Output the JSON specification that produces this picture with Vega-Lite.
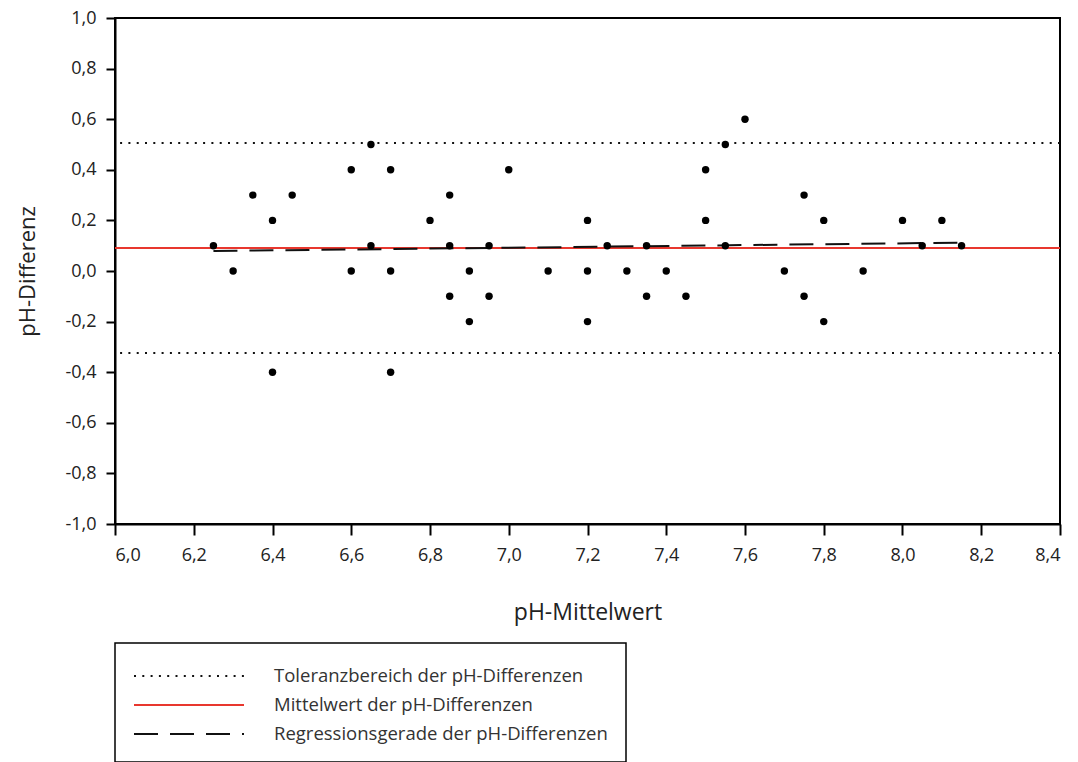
{
  "$schema": "https://vega.github.io/schema/vega-lite/v6.json",
  "width": 945,
  "height": 506,
  "autosize": {"type": "none"},
  "padding": {"left": 115, "top": 18, "right": 18, "bottom": 238},
  "background": "white",
  "config": {
    "view": {"stroke": "black", "strokeWidth": 2},
    "font": "Open Sans",
    "axis": {
      "grid": false,
      "domainColor": "black",
      "domainWidth": 2,
      "tickColor": "black",
      "tickWidth": 2,
      "labelFont": "Open Sans",
      "labelFontSize": 18,
      "labelColor": "#222",
      "titleFont": "Open Sans",
      "titleFontSize": 22,
      "titleFontWeight": "normal",
      "titleColor": "#222"
    },
    "legend": {
      "orient": "none",
      "legendX": 0,
      "legendY": 625,
      "symbolType": "stroke",
      "symbolSize": 12100,
      "symbolStrokeWidth": 2,
      "labelFont": "Open Sans",
      "labelFontSize": 18.5,
      "labelColor": "#333",
      "labelOffset": 29,
      "labelLimit": 0,
      "clipHeight": 16,
      "rowPadding": 10,
      "padding": 18,
      "strokeColor": "black",
      "strokeWidth": 1.5,
      "fillColor": "white",
      "titleFontSize": 6,
      "titlePadding": 1
    }
  },
  "layer": [
    {
      "data": {
        "values": [
          {"type": "Toleranzbereich der pH-Differenzen", "y": 0.506},
          {"type": "Toleranzbereich der pH-Differenzen", "y": -0.324},
          {"type": "Mittelwert der pH-Differenzen", "y": 0.091}
        ]
      },
      "mark": {"type": "rule"},
      "encoding": {
        "y": {"field": "y", "type": "quantitative", "scale": {"domain": [-1, 1], "nice": false, "zero": false},
          "axis": {"title": "pH-Differenz", "values": [-1, -0.8, -0.6, -0.4, -0.2, 0, 0.2, 0.4, 0.6, 0.8, 1],
            "labelExpr": "replace(replace(format(datum.value, '.1f'), '.', ','), '\u2212', '-')",
            "labelFontSize": 18, "labelFont": "Open Sans",
            "tickSize": 9, "labelPadding": 10, "titleX": -88, "titleBaseline": "middle"}},
        "color": {"field": "type", "type": "nominal",
          "scale": {"domain": ["Toleranzbereich der pH-Differenzen", "Mittelwert der pH-Differenzen", "Regressionsgerade der pH-Differenzen"],
            "range": ["#111111", "#e8372e", "#111111"]},
          "legend": {"title": " "}},
        "strokeDash": {"field": "type", "type": "nominal",
          "scale": {"domain": ["Toleranzbereich der pH-Differenzen", "Mittelwert der pH-Differenzen", "Regressionsgerade der pH-Differenzen"],
            "range": [[2, 6.3], [1, 0], [24, 12]]},
          "legend": {"title": " "}},
        "strokeWidth": {"value": 2}
      }
    },
    {
      "data": {
        "values": [
          {"type": "Regressionsgerade der pH-Differenzen", "x": 6.25, "y": 0.079},
          {"type": "Regressionsgerade der pH-Differenzen", "x": 8.15, "y": 0.112}
        ]
      },
      "mark": {"type": "line", "strokeWidth": 2},
      "encoding": {
        "x": {"field": "x", "type": "quantitative"},
        "y": {"field": "y", "type": "quantitative"},
        "color": {"field": "type", "type": "nominal"},
        "strokeDash": {"field": "type", "type": "nominal"}
      }
    },
    {
      "data": {
        "values": [
          {"x": 6.25, "y": 0.1}, {"x": 6.3, "y": 0.0}, {"x": 6.35, "y": 0.3}, {"x": 6.4, "y": 0.2},
          {"x": 6.4, "y": -0.4}, {"x": 6.45, "y": 0.3}, {"x": 6.6, "y": 0.4}, {"x": 6.6, "y": 0.0},
          {"x": 6.65, "y": 0.5}, {"x": 6.65, "y": 0.1}, {"x": 6.7, "y": 0.4}, {"x": 6.7, "y": 0.0},
          {"x": 6.7, "y": -0.4}, {"x": 6.8, "y": 0.2}, {"x": 6.85, "y": 0.3}, {"x": 6.85, "y": 0.1},
          {"x": 6.85, "y": -0.1}, {"x": 6.9, "y": 0.0}, {"x": 6.9, "y": -0.2}, {"x": 6.95, "y": 0.1},
          {"x": 6.95, "y": -0.1}, {"x": 7.0, "y": 0.4}, {"x": 7.1, "y": 0.0}, {"x": 7.2, "y": 0.2},
          {"x": 7.2, "y": 0.0}, {"x": 7.2, "y": -0.2}, {"x": 7.25, "y": 0.1}, {"x": 7.3, "y": 0.0},
          {"x": 7.35, "y": 0.1}, {"x": 7.35, "y": -0.1}, {"x": 7.4, "y": 0.0}, {"x": 7.45, "y": -0.1},
          {"x": 7.5, "y": 0.4}, {"x": 7.5, "y": 0.2}, {"x": 7.55, "y": 0.5}, {"x": 7.55, "y": 0.1},
          {"x": 7.6, "y": 0.6}, {"x": 7.7, "y": 0.0}, {"x": 7.75, "y": 0.3}, {"x": 7.75, "y": -0.1},
          {"x": 7.8, "y": 0.2}, {"x": 7.8, "y": -0.2}, {"x": 7.9, "y": 0.0}, {"x": 8.0, "y": 0.2},
          {"x": 8.05, "y": 0.1}, {"x": 8.1, "y": 0.2}, {"x": 8.15, "y": 0.1}
        ]
      },
      "mark": {"type": "circle", "color": "black", "size": 55, "opacity": 1},
      "encoding": {
        "x": {"field": "x", "type": "quantitative", "scale": {"domain": [6, 8.4], "nice": false, "zero": false},
          "axis": {"title": "pH-Mittelwert", "values": [6, 6.2, 6.4, 6.6, 6.8, 7, 7.2, 7.4, 7.6, 7.8, 8, 8.2, 8.4],
            "labelExpr": "replace(replace(format(datum.value, '.1f'), '.', ','), '\u2212', '-')",
            "labelFontSize": 18, "labelFont": "Open Sans",
            "tickSize": 11, "labelPadding": 11, "titleY": 88, "titleBaseline": "middle", "titleFontSize": 23}},
        "y": {"field": "y", "type": "quantitative"}
      }
    }
  ]
}
